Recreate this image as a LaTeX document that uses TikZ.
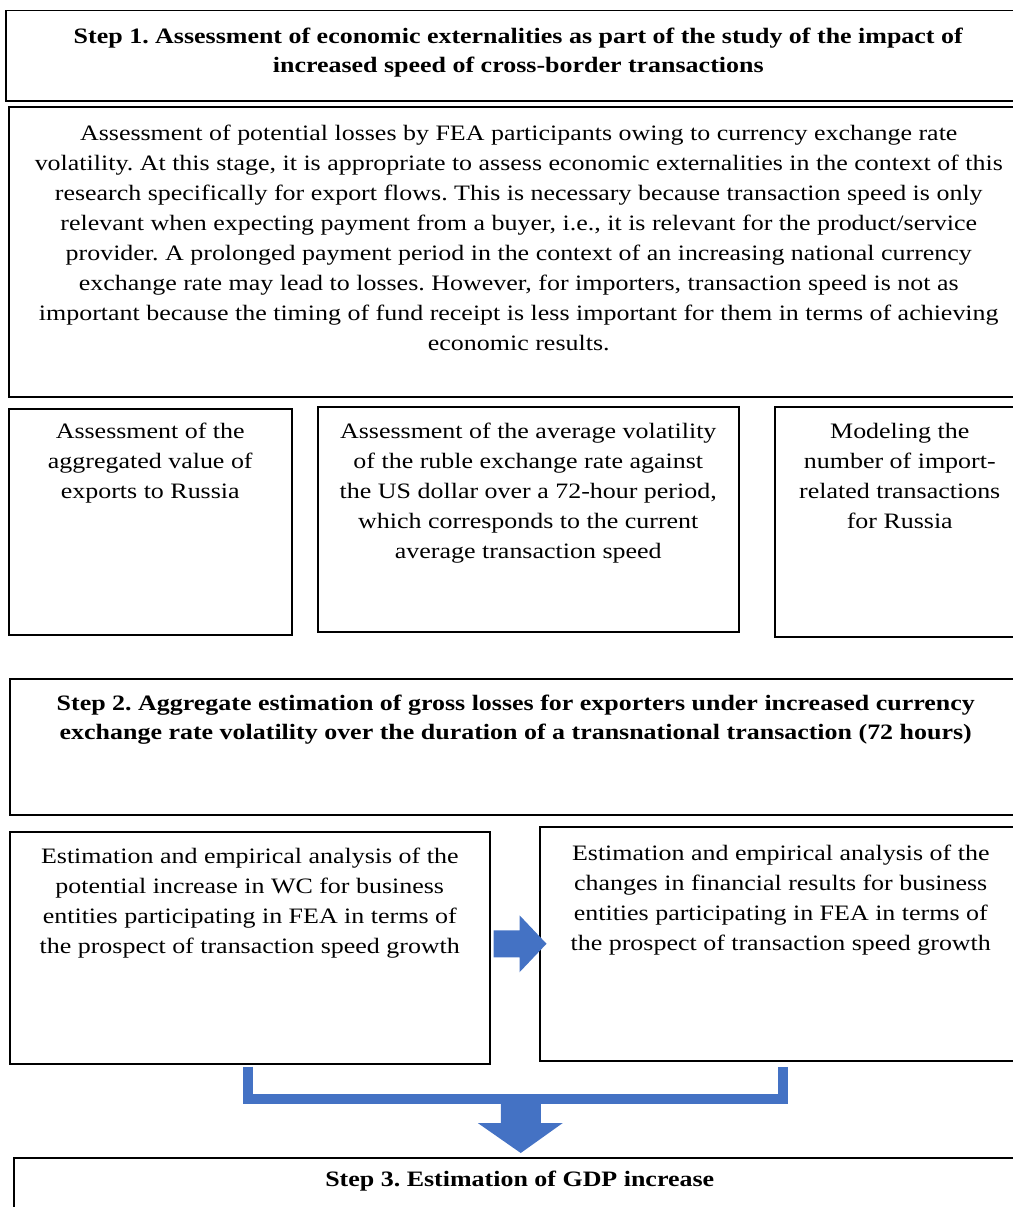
\documentclass[tikz,border=0pt]{standalone}
\usepackage{fontspec}
\setmainfont{Liberation Serif}[FakeStretch=1.18]
\frenchspacing
\usetikzlibrary{positioning,calc}
\definecolor{arrowblue}{HTML}{4472C4}
\begin{document}
\begin{tikzpicture}[x=1pt, y=-1pt, node distance=17pt,
        box/.style = {draw, line width=1.5pt, anchor=north west, inner sep=0},
        txt/.style = {align=center, inner sep=0, font=\fontsize{22}{30}\selectfont},
        head/.style = {align=center, inner sep=0, font=\fontsize{22}{29}\selectfont\bfseries},
        band/.style = {arrowblue, line width=10pt},
        blockarrow/.style = {fill=arrowblue}]
    \useasboundingbox (0,0) rectangle (1012,1207);

    % step 1
    \node[box, minimum width=1025, minimum height=90] (s1) at (5,10) {};
    \node[head, below=18pt of s1.north] (s1t) {Step 1. Assessment of economic externalities as part of the study of the impact of\\increased speed of cross-border transactions};

    \node[box, minimum width=1020, minimum height=290] (desc) at (8,106) {};
    \node[txt, below=19pt of desc.north] (desct) {Assessment of potential losses by FEA participants owing to currency exchange rate\\
        volatility. At this stage, it is appropriate to assess economic externalities in the context of this\\
        research specifically for export flows. This is necessary because transaction speed is only\\
        relevant when expecting payment from a buyer, i.e., it is relevant for the product/service\\
        provider. A prolonged payment period in the context of an increasing national currency\\
        exchange rate may lead to losses. However, for importers, transaction speed is not as\\
        important because the timing of fund receipt is less important for them in terms of achieving\\
        economic results.};

    \node[box, minimum width=283, minimum height=226] (agg) at (8,408) {};
    \node[txt, below=15pt of agg.north] (aggt) {Assessment of the\\aggregated value of\\exports to Russia};

    \node[box, minimum width=421, minimum height=225] (vol) at (317,406) {};
    \node[txt, below=17pt of vol.north] (volt) {Assessment of the average volatility\\of the ruble exchange rate against\\the US dollar over a 72-hour period,\\which corresponds to the current\\average transaction speed};

    \node[box, minimum width=250, minimum height=230] (imp) at (774,406) {};
    \node[txt, below=17pt of imp.north] (impt) {Modeling the\\number of import-\\related transactions\\for Russia};

    % step 2
    \node[box, minimum width=1012, minimum height=136] (s2) at (9,678) {};
    \node[head, below=17pt of s2.north] (s2t) {Step 2. Aggregate estimation of gross losses for exporters under increased currency\\exchange rate volatility over the duration of a transnational transaction (72 hours)};

    \node[box, minimum width=480, minimum height=232] (wc) at (9,831) {};
    \node[txt, below=17pt of wc.north] (wct) {Estimation and empirical analysis of the\\potential increase in WC for business\\entities participating in FEA in terms of\\the prospect of transaction speed growth};

    \node[box, minimum width=482, minimum height=234] (fin) at (539,826) {};
    \node[txt, below=19pt of fin.north] (fint) {Estimation and empirical analysis of the\\changes in financial results for business\\entities participating in FEA in terms of\\the prospect of transaction speed growth};

    % step 3
    \node[box, minimum width=1012, minimum height=70] (s3) at (13,1157) {};
    \node[head, below=14pt of s3.north] (s3t) {Step 3. Estimation of GDP increase};

    % arrows
    \path (wc.east) ++(3,-4) coordinate (ra);
    \fill[blockarrow] (ra) ++(0,-13.5) -- ++(26,0) -- ++(0,-15) -- ++(27,28.5)
        -- ++(-27,28.5) -- ++(0,-15) -- ++(-26,0) -- cycle;

    \coordinate (bl) at ($(wc.south west)+(239,2)$);
    \coordinate (br) at ($(fin.south west)+(244,5)$);
    \draw[band] (bl) |- ($(br)+(0,32.5)$) -- (br);

    \coordinate (da) at ($(s3.north)+(1,-59)$);
    \fill[blockarrow] (da) ++(-20,0) -- ++(40,0) -- ++(0,25) -- ++(22,0)
        -- ++(-42,30) -- ++(-43,-30) -- ++(23,0) -- cycle;
\end{tikzpicture}
\end{document}
